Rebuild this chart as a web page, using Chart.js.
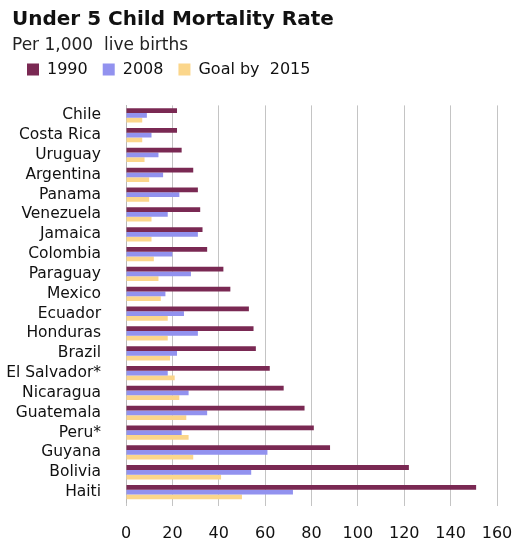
<!DOCTYPE html>
<html>
<head>
<meta charset="utf-8">
<script src="https://cdn.jsdelivr.net/npm/chart.js@4/dist/chart.umd.min.js"></script>
<style>
  html, body { margin: 0; padding: 0; background: #fff; overflow: hidden; }
</style>
</head>
<body>
<canvas id="myChart" width="516" height="541"></canvas>
<script>
// Taux de mortalité des moins de 5 ans (pour 1 000 naissances)
const countries = ['Chile', 'Costa Rica', 'Uruguay', 'Argentina', 'Panama', 'Venezuela', 'Jamaica',
    'Colombia', 'Paraguay', 'Mexico', 'Ecuador', 'Honduras', 'Brazil', 'El Salvador*',
    'Nicaragua', 'Guatemala', 'Peru*', 'Guyana', 'Bolivia', 'Haiti'];
const rate1990 = [22, 22, 24, 29, 31, 32, 33, 35, 42, 45, 53, 55, 56, 62, 68, 77, 81, 88, 122, 151];
const rate2008 = [9, 11, 14, 16, 23, 18, 31, 20, 28, 17, 25, 31, 22, 18, 27, 35, 24, 61, 54, 72];
const goal2015 = [7, 7, 8, 10, 10, 11, 11, 12, 14, 15, 18, 18, 19, 21, 23, 26, 27, 29, 41, 50];
const xTicks = [0, 20, 40, 60, 80, 100, 120, 140, 160];

const font = 'DejaVu Sans, Verdana, sans-serif';

// Espace supplémentaire sous la légende
const legendSpacer = {
    id: 'legendSpacer',
    beforeInit(chart) {
        const fit = chart.legend.fit;
        chart.legend.fit = function () {
            fit.bind(chart.legend)();
            this.height += 18;
        };
    }
};

const ctx = document.getElementById('myChart').getContext('2d');
const myChart = new Chart(ctx, {
    type: 'bar',
    data: {
        labels: countries,
        datasets: [{
            label: '1990',
            data: rate1990,
            backgroundColor: '#7a2953'
        }, {
            label: '2008',
            data: rate2008,
            backgroundColor: '#9292ef'
        }, {
            label: 'Goal by  2015',
            data: goal2015,
            backgroundColor: '#fbd68b'
        }]
    },
    options: {
        indexAxis: 'y',
        responsive: false,
        animation: false,
        datasets: {
            bar: { categoryPercentage: 0.72, barPercentage: 1.0 }
        },
        layout: { padding: { left: 12, right: 2, top: 8, bottom: 2 } },
        plugins: {
            title: {
                display: true,
                text: 'Under 5 Child Mortality Rate',
                align: 'start',
                color: '#111',
                font: { family: font, size: 20, weight: 'bold' },
                padding: { top: 0, bottom: 3 }
            },
            subtitle: {
                display: true,
                text: 'Per 1,000  live births',
                align: 'start',
                color: '#222',
                font: { family: font, size: 17 },
                padding: { top: 0, bottom: -9 }
            },
            legend: {
                display: true,
                position: 'top',
                align: 'start',
                labels: {
                    boxWidth: 12,
                    boxHeight: 12,
                    padding: 15,
                    color: '#111',
                    font: { family: font, size: 16 }
                }
            },
            tooltip: { enabled: false }
        },
        scales: {
            x: {
                min: 0,
                max: 160,
                afterBuildTicks: axis => { axis.ticks = xTicks.map(v => ({ value: v })); },
                afterFit: axis => {
                    axis.height = 37;
                    // marge à droite juste pour le dernier libellé
                    axis.paddingRight = 19;
                    axis.paddingLeft = 0;
                },
                grid: { color: '#c4c4c4', lineWidth: 1, tickLength: 4 },
                border: { display: false },
                ticks: {
                    color: '#111',
                    padding: 18,
                    font: { family: font, size: 16 }
                }
            },
            y: {
                afterFit: axis => {
                    axis.width = 114;
                    // les libellés longs dépassent à gauche : pas de découpe
                    axis._computeLabelArea = () => undefined;
                },
                grid: { display: false },
                border: { display: true, color: '#b8b8b8' },
                ticks: {
                    autoSkip: false,
                    color: '#111',
                    padding: 17,
                    font: { family: font, size: 15.5 }
                }
            }
        }
    },
    plugins: [legendSpacer]
});
</script>
</body>
</html>
